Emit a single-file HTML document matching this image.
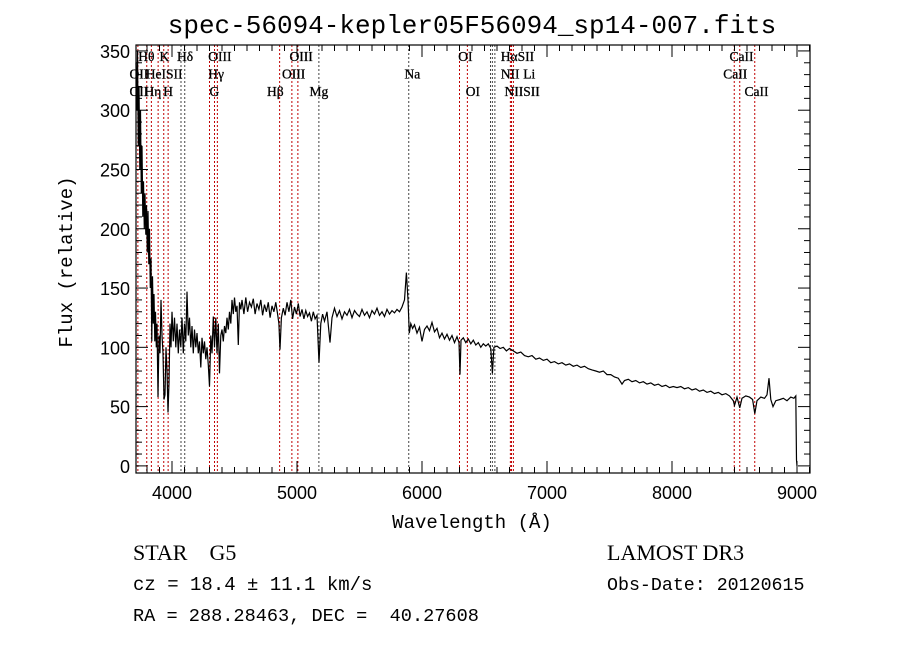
<!DOCTYPE html>
<html><head><meta charset="utf-8"><style>
html,body{margin:0;padding:0;background:#fff;}
svg{display:block;}
text{font-family:"Liberation Sans",sans-serif;}
svg text.ser, .ser text{font-family:"Liberation Serif",serif;}
svg text.mono{font-family:"Liberation Mono",monospace;}
text{white-space:pre;}
</style></head><body>
<svg id="chart" width="900" height="649" viewBox="0 0 900 649" xmlns="http://www.w3.org/2000/svg" xml:space="preserve">
<rect width="900" height="649" fill="#fff"/>
<text class="mono" x="472" y="33" font-size="26" text-anchor="middle">spec-56094-kepler05F56094_sp14-007.fits</text>
<g id="lines"></g>
<g id="labels" class="ser" font-size="13.5" stroke="#000" stroke-width="0.3"></g>
<polyline id="spec" fill="none" stroke="#000" stroke-width="1.2"/>
<rect x="136" y="45" width="674" height="428" fill="none" stroke="#000" stroke-width="1.2"/>
<g id="axes"></g>
<text x="472" y="528" font-size="19" text-anchor="middle" class="mono">Wavelength (Å)</text>
<text transform="translate(72,262) rotate(-90)" font-size="19" text-anchor="middle" class="mono">Flux (relative)</text>
<text x="133" y="560" font-size="22" class="ser">STAR    G5</text>
<text x="607" y="560" font-size="22" class="ser">LAMOST DR3</text>
<text x="133" y="590" font-size="19" class="mono">cz = 18.4 ± 11.1 km/s</text>
<text x="607" y="590" font-size="18.3" class="mono">Obs-Date: 20120615</text>
<text x="133" y="621" font-size="18.6" class="mono">RA = 288.28463, DEC =  40.27608</text>
</svg>
<script>
const wavelengths=[3712,3718,3724,3730,3736,3742,3748,3754,3760,3766,3772,3778,3784,3790,3796,3802,3808,3814,3820,3826,3832,3838,3844,3850,3856,3862,3868,3874,3880,3888,3896,3904,3912,3920,3928,3936,3944,3952,3960,3968,3976,3984,3992,4000,4010,4020,4030,4040,4050,4060,4070,4080,4090,4100,4110,4120,4130,4140,4150,4160,4170,4180,4190,4200,4210,4220,4230,4240,4250,4260,4270,4280,4290,4300,4310,4320,4330,4340,4350,4360,4370,4380,4390,4400,4410,4420,4430,4440,4450,4460,4470,4480,4490,4500,4510,4520,4530,4540,4550,4560,4575,4590,4605,4620,4635,4650,4665,4680,4695,4710,4725,4740,4755,4770,4785,4800,4815,4830,4845,4855,4864,4875,4890,4905,4920,4935,4950,4965,4980,4995,5010,5025,5040,5055,5070,5085,5100,5115,5130,5145,5160,5176,5190,5205,5220,5240,5264,5280,5300,5320,5340,5360,5380,5400,5420,5440,5460,5480,5500,5520,5540,5560,5580,5600,5620,5640,5660,5680,5700,5720,5740,5760,5780,5800,5820,5840,5860,5875,5888,5898,5910,5925,5940,5960,5980,6000,6020,6040,6060,6080,6100,6120,6140,6160,6180,6200,6220,6240,6260,6280,6296,6304,6312,6330,6350,6370,6390,6410,6430,6450,6470,6490,6510,6530,6550,6563,6575,6600,6625,6650,6675,6700,6730,6760,6790,6820,6850,6880,6910,6940,6970,7000,7030,7060,7090,7120,7150,7180,7210,7240,7270,7300,7330,7360,7390,7420,7450,7480,7510,7540,7570,7600,7620,7650,7680,7710,7740,7770,7800,7830,7860,7890,7920,7950,7980,8010,8040,8070,8100,8130,8160,8190,8220,8250,8280,8310,8340,8370,8400,8430,8460,8490,8500,8520,8542,8560,8590,8620,8645,8662,8680,8710,8740,8760,8776,8790,8808,8830,8864,8890,8920,8950,8975,8990,8996,9000];
const fluxes=[340,300,350,270,320,250,300,230,270,210,240,200,230,195,220,180,215,170,200,150,175,105,160,120,145,105,130,100,120,58,110,95,140,110,95,56,60,100,80,45,70,120,100,130,105,125,100,120,95,115,100,125,95,120,105,147,110,125,100,118,95,115,100,112,95,105,83,108,95,105,90,100,85,67,110,95,126,100,125,95,120,78,110,115,105,118,112,125,115,130,120,140,128,142,130,135,102,138,132,140,128,142,130,138,134,141,128,137,132,140,127,136,130,138,125,135,130,138,128,120,98,125,133,127,138,130,140,124,134,128,137,126,132,124,131,126,129,122,130,124,127,87,120,128,122,130,104,125,133,126,131,124,130,127,132,125,131,128,126,132,127,130,125,131,128,133,127,130,126,132,128,131,129,132,130,134,140,163,140,112,120,116,119,112,117,105,115,118,114,121,113,116,108,112,107,111,106,110,104,109,104,77,106,108,104,107,103,106,102,104,100,103,101,103,99,78,100,101,99,100,97,99,97,95,96,93,92,93,90,91,89,90,87,88,86,87,85,86,84,85,83,84,82,81,80,79,80,77,77,75,74,69,72,73,71,72,70,71,69,70,68,69,67,68,66,67,66,67,65,66,64,65,63,64,62,63,61,62,60,61,59,55,51,58,49,57,59,58,56,44,55,58,57,60,74,56,50,55,56,57,55,58,57,59,5,0];
const lineWaves=[3727,3798,3835,3889,3934,3969,4072,4102,4300,4340,4363,4861,4959,5007,5175,5894,6300,6363,6548,6563,6583,6707,6716,6731,8498,8542,8662];
const darkLines=[4072,4102,5175,5894,6548,6563,6583];
const yTicks=[0,50,100,150,200,250,300,350];
const xTicks=[4000,5000,6000,7000,8000,9000];
const labelTexts=["Hθ","K","Hδ","OIII","OIII","OI","HαSII","CaII","OII","HeISII","Hγ","OIII","Na","NII","Li","CaII","OII","Hη","H","G","Hβ","Mg","OI","NIISII","CaII"];
const labelWaves=[3730,3900,4040,4290,4940,6290,6630,8460,3660,3790,4290,4880,5860,6630,6810,8410,3660,3780,3930,4300,4760,5100,6350,6660,8580];
const labelRows=[0,0,0,0,0,0,0,0,1,1,1,1,1,1,1,1,2,2,2,2,2,2,2,2,2];

const X0=136,X1=810,L0=3712,L1=9104,Y0=473,Y1=45,F0=-6,F1=355;
const sx=l=>X0+(l-L0)/(L1-L0)*(X1-X0);
const sy=f=>Y0-(f-F0)/(F1-F0)*(Y0-Y1);
const NS="http://www.w3.org/2000/svg";

document.getElementById('spec').setAttribute('points',wavelengths.map((w,i)=>sx(w).toFixed(1)+','+sy(fluxes[i]).toFixed(1)).join(' '));

const lg=document.getElementById('lines');
lineWaves.forEach(w=>{
  const l=document.createElementNS(NS,'line');
  
  
  const x=sx(w);
  l.setAttribute('x1',x);l.setAttribute('x2',x);l.setAttribute('y1',Y1);l.setAttribute('y2',Y0);
  l.setAttribute('stroke',darkLines.includes(w)?'#444':'#c00000');
  l.setAttribute('stroke-width','1');l.setAttribute('stroke-dasharray','2,2');
  lg.appendChild(l);
});
const lb=document.getElementById('labels');
labelTexts.forEach((t,i)=>{
  const e=document.createElementNS(NS,'text');
  
  
  e.setAttribute('class','ser');
  e.setAttribute('x',sx(labelWaves[i]));e.setAttribute('y',61+labelRows[i]*17.5);
  e.textContent=t;lb.appendChild(e);
});
const ax=document.getElementById('axes');
function ln(x1,y1,x2,y2){const l=document.createElementNS(NS,'line');l.setAttribute('x1',x1);l.setAttribute('y1',y1);l.setAttribute('x2',x2);l.setAttribute('y2',y2);l.setAttribute('stroke','#000');l.setAttribute('stroke-width','1');ax.appendChild(l);return l;}
for(let f=0;f<=350;f+=10){const y=sy(f);const m=f%50===0;ln(X0,y,X0+(m?12:6),y);ln(X1,y,X1-(m?12:6),y);}
for(let w=3800;w<=9100;w+=100){const x=sx(w);const m=w%1000===0;ln(x,Y0,x,Y0-(m?12:6));ln(x,Y1,x,Y1+(m?12:6));}
yTicks.forEach(f=>{const t=document.createElementNS(NS,'text');


t.setAttribute('x',X0-6);t.setAttribute('y',sy(f)+7);t.setAttribute('text-anchor','end');t.setAttribute('font-size','18');t.textContent=f;ax.appendChild(t);});
xTicks.forEach(w=>{const t=document.createElementNS(NS,'text');


t.setAttribute('x',sx(w));t.setAttribute('y',Y0+26);t.setAttribute('text-anchor','middle');t.setAttribute('font-size','18');t.textContent=w;ax.appendChild(t);});
</script>
</body></html>
